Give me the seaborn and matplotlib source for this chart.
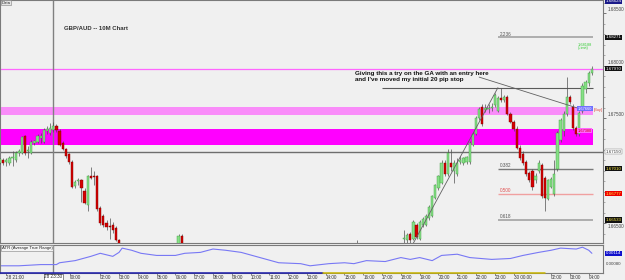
import numpy as np
import pandas as pd
import matplotlib
matplotlib.use("Agg")
import matplotlib.pyplot as plt
import matplotlib.transforms as mtrans
from matplotlib.lines import Line2D
import seaborn as sns

# ---------------- data ----------------
# 10-minute bar numbers (bar 0 = 28 20:40)
bars = list(range(0, 39)) + [57, 58, 114] + list(range(129, 190))
opens = [1.6707, 1.6710, 1.6708, 1.6707, 1.6712, 1.6710, 1.6717, 1.6717, 1.6733, 1.6719,
         1.6717, 1.6726, 1.6727, 1.6731, 1.6727, 1.6738, 1.6736, 1.6739, 1.6742, 1.6738,
         1.6726, 1.6721, 1.6716, 1.6708, 1.6685, 1.6690, 1.6691, 1.6681, 1.6667, 1.6695,
         1.6695, 1.6695, 1.6664, 1.6657, 1.6650, 1.6647, 1.6648, 1.6645, 1.6634,
         1.6629, 1.6638, 1.6624,
         1.6635, 1.6634, 1.6640, 1.6635, 1.6648, 1.6635, 1.6648, 1.6648, 1.6655, 1.6657,
         1.6674, 1.6683, 1.6688, 1.6707, 1.6697, 1.6707, 1.6700, 1.6697, 1.6708, 1.6707,
         1.6708, 1.6708, 1.6724, 1.6735, 1.6750, 1.6761, 1.6758, 1.6759, 1.6760, 1.6762,
         1.6757, 1.6769, 1.6767, 1.6770, 1.6754, 1.6746, 1.6740, 1.6722, 1.6716, 1.6708,
         1.6698, 1.6700, 1.6691, 1.6700, 1.6705, 1.6693, 1.6673, 1.6684, 1.6678, 1.6702,
         1.6729, 1.6738, 1.6754, 1.6770, 1.6761, 1.6741, 1.6735, 1.6757, 1.6778, 1.6783,
         1.6793]
closes = [1.6711, 1.6707, 1.6710, 1.6712, 1.6713, 1.6717, 1.6719, 1.6732, 1.6717, 1.6720,
          1.6727, 1.6728, 1.6733, 1.6733, 1.6739, 1.6740, 1.6741, 1.6742, 1.6739, 1.6724,
          1.6721, 1.6714, 1.6708, 1.6684, 1.6689, 1.6691, 1.6683, 1.6669, 1.6695, 1.6693,
          1.6694, 1.6663, 1.6650, 1.6648, 1.6646, 1.6646, 1.6643, 1.6634, 1.6628,
          1.6638, 1.6627, 1.6622,
          1.6636, 1.6639, 1.6634, 1.6651, 1.6637, 1.6651, 1.6654, 1.6657, 1.6665, 1.6676,
          1.6686, 1.6695, 1.6707, 1.6697, 1.6717, 1.6703, 1.6707, 1.6707, 1.6710, 1.6712,
          1.6713, 1.6726, 1.6735, 1.6750, 1.6759, 1.6744, 1.6760, 1.6760, 1.6761, 1.6772,
          1.6769, 1.6767, 1.6770, 1.6754, 1.6746, 1.6740, 1.6722, 1.6712, 1.6707, 1.6697,
          1.6691, 1.6684, 1.6695, 1.6707, 1.6676, 1.6674, 1.6691, 1.6692, 1.6697, 1.6736,
          1.6748, 1.6754, 1.6770, 1.6765, 1.6741, 1.6735, 1.6755, 1.6781, 1.6784, 1.6793,
          1.6797]
highs = [1.6712, 1.6712, 1.6712, 1.6714, 1.6719, 1.6719, 1.6721, 1.6733, 1.6734, 1.6723,
         1.6729, 1.6729, 1.6735, 1.6736, 1.6741, 1.6742, 1.6745, 1.6746, 1.6744, 1.6740,
         1.6728, 1.6722, 1.6717, 1.6710, 1.6691, 1.6693, 1.6692, 1.6683, 1.6696, 1.6703,
         1.6700, 1.6696, 1.6666, 1.6659, 1.6653, 1.6655, 1.6651, 1.6647, 1.6635,
         1.6640, 1.6640, 1.6634,
         1.6643, 1.6641, 1.6642, 1.6653, 1.6650, 1.6653, 1.6656, 1.6659, 1.6667, 1.6677,
         1.6687, 1.6696, 1.6710, 1.6710, 1.6721, 1.6721, 1.6710, 1.6712, 1.6714, 1.6713,
         1.6714, 1.6728, 1.6737, 1.6752, 1.6761, 1.6763, 1.6763, 1.6763, 1.6764, 1.6774,
         1.6771, 1.6779, 1.6772, 1.6772, 1.6756, 1.6748, 1.6742, 1.6724, 1.6719, 1.6710,
         1.6700, 1.6702, 1.6698, 1.6710, 1.6707, 1.6695, 1.6692, 1.6694, 1.6710, 1.6738,
         1.6750, 1.6757, 1.6789, 1.6772, 1.6763, 1.6742, 1.6757, 1.6783, 1.6786, 1.6795,
         1.6800]
lows = [1.6706, 1.6705, 1.6704, 1.6705, 1.6704, 1.6708, 1.6714, 1.6716, 1.6715, 1.6712,
        1.6716, 1.6724, 1.6726, 1.6726, 1.6726, 1.6735, 1.6734, 1.6737, 1.6737, 1.6723,
        1.6720, 1.6712, 1.6706, 1.6683, 1.6683, 1.6686, 1.6670, 1.6668, 1.6662, 1.6692,
        1.6686, 1.6662, 1.6648, 1.6646, 1.6643, 1.6635, 1.6641, 1.6633, 1.6626,
        1.6627, 1.6624, 1.6619,
        1.6630, 1.6630, 1.6631, 1.6634, 1.6635, 1.6634, 1.6646, 1.6647, 1.6653, 1.6656,
        1.6673, 1.6682, 1.6687, 1.6695, 1.6695, 1.6700, 1.6688, 1.6695, 1.6706, 1.6705,
        1.6706, 1.6706, 1.6723, 1.6734, 1.6748, 1.6742, 1.6756, 1.6755, 1.6757, 1.6761,
        1.6756, 1.6765, 1.6765, 1.6753, 1.6745, 1.6738, 1.6721, 1.6710, 1.6705, 1.6695,
        1.6689, 1.6682, 1.6688, 1.6698, 1.6674, 1.6662, 1.6672, 1.6683, 1.6676, 1.6700,
        1.6727, 1.6733, 1.6752, 1.6763, 1.6739, 1.6733, 1.6733, 1.6755, 1.6774, 1.6781,
        1.6791]

atr_bars = [0, 6, 13, 18, 19, 24, 29, 32, 36, 38, 39, 42, 45, 50, 56, 59, 64, 68, 72, 77,
            83, 89, 96, 99, 105, 110, 113, 117, 123, 128, 131, 134, 138, 141, 146, 150,
            157, 163, 167, 172, 176, 179, 184, 186, 188, 189]
atr_vals = [0.00073, 0.00073, 0.00077, 0.00077, 0.00083, 0.00090, 0.00104, 0.00114,
            0.00104, 0.00117, 0.00131, 0.00124, 0.00114, 0.00107, 0.00107, 0.00114,
            0.00117, 0.00128, 0.00124, 0.00117, 0.00100, 0.00083, 0.00080, 0.00073,
            0.00080, 0.00083, 0.00080, 0.00090, 0.00087, 0.00100, 0.00094, 0.00100,
            0.00090, 0.00107, 0.00111, 0.00100, 0.00094, 0.00097, 0.00107, 0.00117,
            0.00124, 0.00131, 0.00128, 0.00134, 0.00124, 0.00114]

# time axis labels: hours after 28 21:00
hour_pos = [0, 3.4] + list(range(5, 27)) + [27, 29, 30, 31]
hour_labels = (["28 21:00", "00:00"] + ["%02d:00" % ((21 + h) % 24) for h in range(5, 27)]
               + ["30 00:00", "02:00", "03:00", "04:00"])
cursor_hour = 2.5
cursor_label = "28 23:30"

price_ticks = [1.685, 1.680, 1.675, 1.665]
price_tick_labels = ["1.68500", "1.68000", "1.67500", "1.66500"]
price_label_above = [True, True, True, False]

zone_light = (1.6753, 1.6761)
zone_strong = (1.6724, 1.6740)
magenta_level = 1.6797
support_level = 1.6718
stop_level = 1.6779
fib_levels = [1.6827, 1.6702, 1.6678, 1.6653]
fib_labels = ["2.236", "0.382", "0.500", "0.618"]
fib_start_bar = 159
zone_end_bar = 189.4
stop_start_bar = 122
trend1_x = [132, 159]
trend1_y = [1.6631, 1.6779]
trend2_x = [153, 185]
trend2_y = [1.6789, 1.6759]

# ---------------- style ----------------
sns.set_theme(style="white")
plt.rcParams["font.family"] = ["Liberation Sans", "DejaVu Sans"]
BG = "#f0f0f0"

fig = plt.figure(figsize=(6.25, 2.8), dpi=100, facecolor=BG)
ax = fig.add_axes([0, 37 / 280, 603 / 625, 243 / 280], facecolor=BG)
ax2 = fig.add_axes([0, 7 / 280, 603 / 625, 28 / 280], facecolor=BG, sharex=ax)

def b_of_hour(h):
    return 2 + 6 * h

xlim = (-0.01, 192.55)
ax.set_xlim(*xlim)
ax.set_ylim(1.66311, 1.68624)

# zones and levels
zx = (zone_end_bar - xlim[0]) / (xlim[1] - xlim[0])
ax.axhspan(*zone_light, xmin=0, xmax=zx, color="#f98cf9", lw=0, zorder=1)
ax.axhspan(*zone_strong, xmin=0, xmax=zx, color="#ff00ff", lw=0, zorder=1)
ax.axhline(magenta_level, color="#ff66ff", lw=0.9, zorder=1)
ax.axhline(support_level, color="#6e6e6e", lw=1.0, zorder=1)
ax.hlines(stop_level, stop_start_bar, zone_end_bar, color="#5a5a5a", lw=0.8, zorder=1)

fib_colors = ["#a8a8a8", "#7a7a7a", "#f0a0a0", "#a8a8a8"]
fib_lw = [1.3, 1.0, 1.0, 1.3]
fib_txt = ["#555555", "#555555", "#e05050", "#555555"]
for lv, lab, c, lw, tc in zip(fib_levels, fib_labels, fib_colors, fib_lw, fib_txt):
    ax.hlines(lv, fib_start_bar, zone_end_bar, color=c, lw=lw, zorder=1)
    ax.text(fib_start_bar + 0.5, lv + 0.00005, lab, fontsize=3.3, color=tc,
            va="bottom", ha="left", zorder=3)

# cursor vertical line
for a in (ax, ax2):
    a.axvline(b_of_hour(cursor_hour), color="#808080", lw=1.0, zorder=2)

# candles
df = pd.DataFrame({"bar": bars, "open": opens, "close": closes, "high": highs, "low": lows})
df["bull"] = df["close"] >= df["open"]
ax.vlines(df["bar"], df["low"], df["high"], color="#505050", lw=0.5, zorder=4)
body_bottom = df[["open", "close"]].min(axis=1)
body_h = (df["close"] - df["open"]).abs().clip(lower=0.00003)
cols = np.where(df["bull"], "#86e086", "#d50000")
edges = np.where(df["bull"], "#3f9a3f", "#7a0000")
ax.bar(df["bar"], body_h, bottom=body_bottom, width=0.72, color=cols,
       edgecolor=edges, linewidth=0.3, zorder=5)

# trend lines
ax.plot(trend1_x, trend1_y, color="#606060", lw=0.6, zorder=6)
ax.plot(trend2_x, trend2_y, color="#606060", lw=0.6, zorder=6)

# texts
ax.text(20.5, 1.6835, "GBP/AUD -- 10M Chart", fontsize=4.3, fontweight="bold",
        color="#333333", va="center", ha="left")
ax.text(113.4, 1.6790, "Giving this a try on the GA with an entry here\nand I've moved my initial 20 pip stop",
        fontsize=4.5, fontweight="bold", color="#111111", va="center", ha="left",
        linespacing=1.25, zorder=7)
ax.text(0.002, 0.997, "Data", transform=ax.transAxes, fontsize=3, va="top", ha="left",
        bbox=dict(boxstyle="square,pad=0.15", fc="#e4e4e4", ec="#808080", lw=0.4))
ax.text(184.5, 1.6818, "1.68188\n(Limit)", fontsize=2.8, color="#33cc33", ha="left",
        va="center", linespacing=0.9)
ax.text(184.5, 1.6759, "1.67660", fontsize=2.8, color="white", ha="left", va="center",
        zorder=8, bbox=dict(boxstyle="square,pad=0.1", fc="#7070ff", ec="none"))
ax.text(189.6, 1.6758, "[Buy]", fontsize=2.8, color="#e04040", ha="left", va="center", zorder=8)
ax.text(184.5, 1.6738, "1.67380", fontsize=2.8, color="#cc0000", ha="left", va="center",
        zorder=8, bbox=dict(boxstyle="square,pad=0.1", fc="#ff66ff", ec="none"))

# right price axis
tr = mtrans.blended_transform_factory(ax.transAxes, ax.transData)
ax.yaxis.tick_right()
ax.set_yticks(price_ticks)
ax.set_yticklabels([])
ax.set_yticks(np.arange(1.664, 1.6861, 0.001), minor=True)
ax.tick_params(axis="y", which="major", right=True, length=2, width=0.5, colors="#444444")
ax.tick_params(axis="y", which="minor", right=True, length=1.5, width=0.4, colors="#777777")
ax.tick_params(axis="x", bottom=False, labelbottom=False)
for p, s, above in zip(price_ticks, price_tick_labels, price_label_above):
    if above:
        ax.text(1.007, p + 0.00006, s, transform=tr, fontsize=3.3, color="#444444",
                va="bottom", ha="left", clip_on=False)
    else:
        ax.text(1.007, p - 0.00012, s, transform=tr, fontsize=3.3, color="#444444",
                va="top", ha="left", clip_on=False)

box_labels = [
    (1.6861, "1.68624", "#1a1a8a", "white"),
    (1.6827, "1.68271", "#111111", "#ffffff"),
    (1.6797, "1.67970", "#111111", "#ffffff"),
    (1.6718, "1.67150", "#ffffff", "#333333"),
    (1.6702, "1.67010", "#111111", "#ffee44"),
    (1.6678, "1.66777", "#ee0000", "#ffee44"),
    (1.6653, "1.66533", "#111111", "#ffee44"),
]
for p, s, fc, tc in box_labels:
    ax.text(1.004, p, s, transform=tr, fontsize=3.2, color=tc, va="center", ha="left",
            bbox=dict(boxstyle="square,pad=0.15", fc=fc, ec="#777777" if fc == "#ffffff" else "none",
                      lw=0.3), clip_on=False)

for a in (ax, ax2):
    for sp in a.spines.values():
        sp.set_color("#7a7a7a")
        sp.set_linewidth(0.8)

# ATR pane
atr_df = pd.DataFrame({"bar": atr_bars, "atr": atr_vals})
sns.lineplot(data=atr_df, x="bar", y="atr", ax=ax2, color="#7878f5", lw=0.8)
ax2.set_ylim(0.000494, 0.001412)
ax2.set_xlabel("")
ax2.set_ylabel("")
ax2.yaxis.tick_right()
ax2.set_yticks([])
tr2 = mtrans.blended_transform_factory(ax2.transAxes, ax2.transData)
ax2.text(1.004, 0.00114, "0.00114", transform=tr2, fontsize=3.2, color="white",
         va="center", ha="left", bbox=dict(boxstyle="square,pad=0.15", fc="#1010cc", ec="none"))
ax2.text(1.004, 0.00080, "0.00080", transform=tr2, fontsize=3.2, color="#444444",
         va="center", ha="left")
ax2.text(0.003, 0.96, "ATR (Average True Range)", transform=ax2.transAxes, fontsize=3.1,
         va="top", ha="left", color="#222222",
         bbox=dict(boxstyle="square,pad=0.15", fc="#f4f4f4", ec="#808080", lw=0.4))

ax2.set_xticks([b_of_hour(h) for h in hour_pos])
ax2.set_xticklabels(hour_labels, ha="left")
ax2.tick_params(axis="x", bottom=True, length=1.2, width=0.4, pad=0.4, labelsize=3.3,
                colors="#333333")
ax2.text(b_of_hour(cursor_hour), -0.045, cursor_label,
         transform=mtrans.blended_transform_factory(ax2.transData, ax2.transAxes),
         fontsize=3.3, ha="center", va="top", zorder=10,
         bbox=dict(boxstyle="square,pad=0.15", fc="white", ec="#333333", lw=0.4), clip_on=False)

# session strip under the time axis
fig.add_artist(Line2D([0, 323 / 625], [7 / 280, 7 / 280], color="#1a1aaa", lw=1.1))
fig.add_artist(Line2D([323 / 625, 545 / 625], [7 / 280, 7 / 280], color="#c8b400", lw=1.1))

fig.savefig("out.png", dpi=100, facecolor=BG)
